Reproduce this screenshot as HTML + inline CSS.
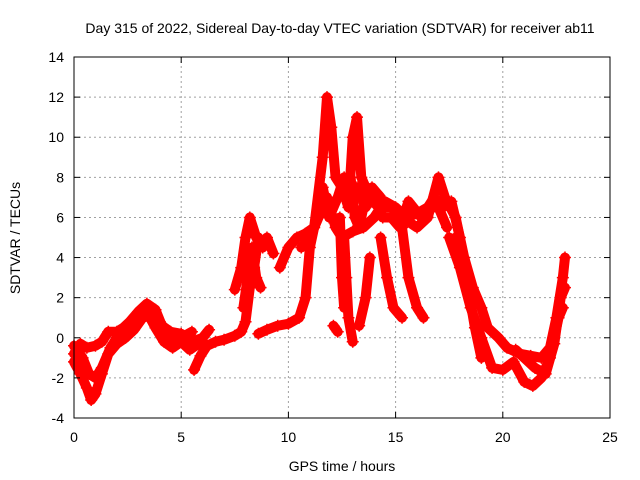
<!DOCTYPE html>
<html><head><meta charset="utf-8"><style>
body{margin:0;background:#fff}
svg{display:block;font-family:"Liberation Sans",sans-serif}
</style></head><body>
<svg id="chart" width="640" height="480">
<text x="340" y="33" font-size="14" text-anchor="middle">Day 315 of 2022, Sidereal Day-to-day VTEC variation (SDTVAR) for receiver ab11</text>
<text x="342" y="471" font-size="14" text-anchor="middle">GPS time / hours</text>
<text x="20" y="238" font-size="14" text-anchor="middle" transform="rotate(-90 20 238)">SDTVAR / TECUs</text>
<g id="grid"></g><g id="marks"></g><g id="axes"></g>
</svg>
<script>
const xTicks=[0,5,10,15,20,25];
const yTicks=[-4,-2,0,2,4,6,8,10,12,14];
const track1=[[0,-0.8],[0.3,-0.3],[0.6,-0.5],[1,-0.4],[1.3,-0.2],[1.6,0.3],[2,0.3],[2.3,0.5],[2.6,0.8],[3,1.3],[3.4,1.7],[3.8,1.4],[4.1,0.6],[4.5,0.3],[5,0.2],[5.5,-0.2],[6,0],[6.3,0.4]];
const track2=[[0,-1.2],[0.3,-1.8],[0.6,-2.5],[0.8,-3.1],[1,-2.8],[1.3,-1.8],[1.6,-0.8],[2,-0.3],[2.4,0],[2.8,0.4],[3.2,1],[3.5,1.1],[3.8,0.5],[4.2,-0.2],[4.6,-0.5],[5,-0.2],[5.4,-0.6],[5.8,-0.3]];
const track3=[[0,-0.4],[0.4,-1],[0.7,-1.8],[1,-2],[1.3,-1.5],[1.7,-0.5],[2,0],[2.5,0.3],[3,0.8],[3.5,1.4],[4,0.8],[4.5,0],[5,0],[5.5,0.3]];
const track4=[[5.6,-1.6],[5.9,-0.9],[6.2,-0.4],[6.6,-0.2],[7,-0.1],[7.5,0.1],[7.8,0.3],[8,0.8],[8.2,2.5],[8.4,3.5],[8.6,5]];
const track5=[[7.5,2.4],[7.8,3.5],[8,5],[8.2,6],[8.5,5],[8.8,4.5],[9,5],[9.3,4.2]];
const track6=[[8.6,0.2],[9,0.4],[9.5,0.6],[10,0.7],[10.5,1],[10.8,2],[11,4.5],[11.2,5.5],[11.6,9],[11.8,12],[12,10.5],[12.2,8],[12.5,7.5],[12.8,6.5],[13,10],[13.2,11],[13.4,8],[13.8,7],[14.2,6.5],[14.8,6.5],[15.3,6],[16,5.5],[16.5,6],[17,8],[17.3,7],[17.8,6],[18.2,4],[18.6,2.5],[19,1.5],[19.3,0.5],[19.8,0],[20.2,-0.5],[20.8,-0.8],[21.3,-0.9],[21.8,-1],[22.2,-0.5],[22.5,1],[22.8,3],[22.9,4]];
const track7=[[9.6,3.5],[10,4.5],[10.4,5],[10.8,5.2],[11.2,5.5],[11.8,7],[12.2,5.5],[12.5,5],[13,5.3],[13.5,5.5],[14,6],[14.5,6.8],[15,6.5],[15.5,6],[16,6.2],[16.5,6.5],[17,6.5],[17.4,5.5]];
const track8=[[12.4,6],[12.5,3],[12.6,1.5]];
const track9=[[12.6,5],[12.7,3],[12.8,1],[13,-0.2]];
const track10=[[13.3,0.6],[13.6,2],[13.8,4]];
const track11=[[14.3,5],[14.6,3],[14.9,1.5],[15.3,1]];
const track12=[[15.3,5.5],[15.6,3],[16,1.5],[16.3,1]];
const track13=[[17.8,5],[18.3,3],[18.7,0.5],[19,-1]];
const track14=[[17.5,5],[18,3.5],[18.5,1.5],[19,0],[19.5,-1.5],[20,-1.6],[20.5,-1.2],[21,-2.2],[21.4,-2.4],[21.8,-2],[22.2,-1],[22.6,1],[22.8,1.5]];
const track15=[[12.1,0.6],[12.3,0.3]];
const track16=[[7.9,1.5],[8.1,3],[8.3,4.5],[8.5,3],[8.7,2.5]];
const track17=[[10.6,4.5],[11,5],[11.4,6],[11.6,7.5],[11.9,6],[12.3,7],[12.6,8],[12.9,7],[13.2,7.5],[13.6,6.5],[14,7.2],[14.4,6],[14.8,6],[15.2,5.5],[15.6,6.8],[16.2,6],[16.8,7],[17.2,6.5],[17.6,6.8],[18,5]];
const track18=[[12.9,8],[13.1,6],[13.3,5.5],[13.6,7],[13.9,7.5],[14.3,7]];
const track19=[[20.6,-0.6],[21,-1],[21.5,-1.5],[22,-1.8],[22.4,-0.3],[22.7,2],[22.9,2.5]];
const tracks=[track1,track2,track3,track4,track5,track6,track7,track8,track9,track10,track11,track12,track13,track14,track15,track16,track17,track18,track19];
const X0=74,X1=610,Y0=418,Y1=57,XMAX=25,YMIN=-4,YMAX=14;
const xs=t=>X0+t/XMAX*(X1-X0);
const ys=v=>Y0-(v-YMIN)/(YMAX-YMIN)*(Y0-Y1);
const NS="http://www.w3.org/2000/svg";
const grid=document.getElementById('grid'),marks=document.getElementById('marks'),axes=document.getElementById('axes');
function mk(tag,attrs,parent){const e=document.createElementNS(NS,tag);for(const k in attrs)e.setAttribute(k,attrs[k]);parent.appendChild(e);return e;}
xTicks.forEach(t=>{
 if(t>0&&t<XMAX){const g=mk('line',{x1:xs(t),x2:xs(t),y1:Y0,y2:Y1,stroke:'#a0a0a0','stroke-dasharray':'2,3'},grid);
 
 }
 const l=mk('text',{x:xs(t),y:Y0+24,'font-size':14,'text-anchor':'middle'},axes);l.textContent=t;
 
 
 mk('line',{x1:xs(t),x2:xs(t),y1:Y0,y2:Y0-6,stroke:'#000'},axes);
 mk('line',{x1:xs(t),x2:xs(t),y1:Y1,y2:Y1+6,stroke:'#000'},axes);
});
yTicks.forEach(v=>{
 if(v>YMIN&&v<YMAX){const g=mk('line',{x1:X0,x2:X1,y1:ys(v),y2:ys(v),stroke:'#a0a0a0','stroke-dasharray':'2,3'},grid);
 
 }
 const l=mk('text',{x:X0-10,y:ys(v)+5,'font-size':14,'text-anchor':'end'},axes);l.textContent=v;
 
 
 mk('line',{x1:X0,x2:X0+6,y1:ys(v),y2:ys(v),stroke:'#000'},axes);
 mk('line',{x1:X1,x2:X1-6,y1:ys(v),y2:ys(v),stroke:'#000'},axes);
});
const frame=mk('rect',{x:X0,y:Y1,width:X1-X0,height:Y0-Y1,fill:'none',stroke:'#000'},axes);


tracks.forEach((tr,i)=>{
 const p=mk('polyline',{points:tr.map(d=>xs(d[0])+','+ys(d[1])).join(' '),fill:'none',stroke:'#ff0000','stroke-width':10,'stroke-linejoin':'round','stroke-linecap':'round'},marks);
 
 
 tr.forEach(d=>{
  const m=mk('path',{d:`M${xs(d[0])-6},${ys(d[1])}h12M${xs(d[0])},${ys(d[1])-6}v12`,stroke:'#ff0000','stroke-width':1.5},marks);
  
  
 });
});
</script>
</body></html>
